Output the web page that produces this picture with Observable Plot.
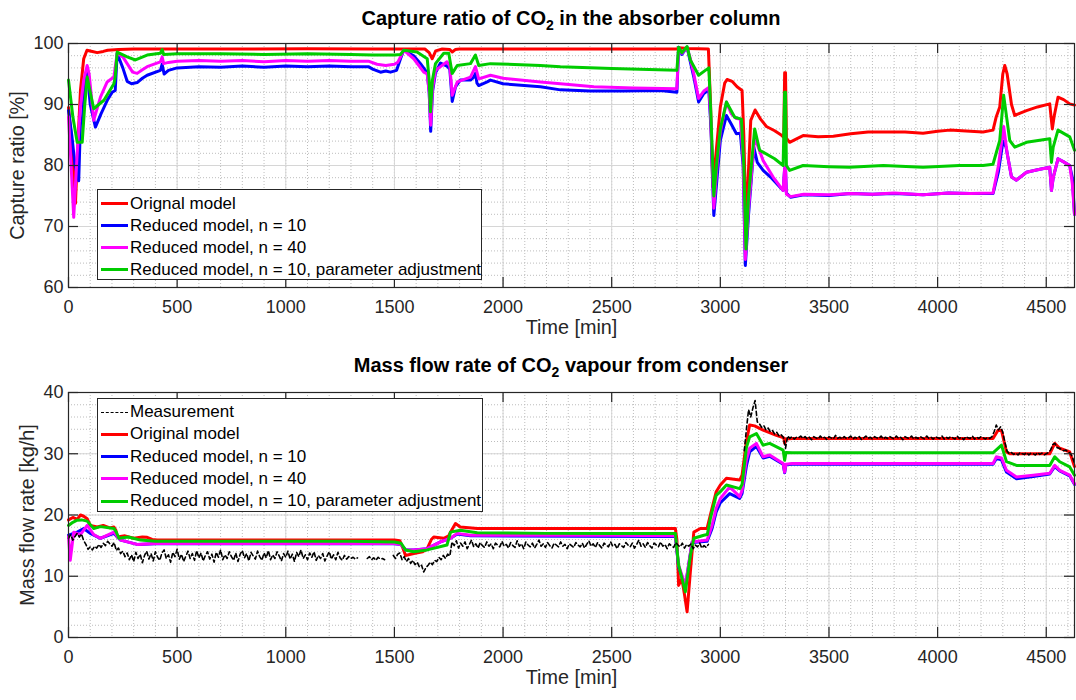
<!DOCTYPE html>
<html>
<head>
<meta charset="utf-8">
<script src="https://cdn.jsdelivr.net/npm/d3@7"></script>
<script src="https://cdn.jsdelivr.net/npm/@observablehq/plot@0.6"></script>
<style>
  html, body { margin: 0; padding: 0; background: #fff; }
  body { font-family: "Liberation Sans", Arial, Helvetica, sans-serif; color: #262626; }
  #root { position: relative; width: 1076px; height: 700px; overflow: hidden; }
  .ttl { position: absolute; left: 68px; width: 1006px; text-align: center; font-weight: bold;
         font-size: 20px; line-height: 20px; color: #000; white-space: nowrap; }
  .ttl sub { font-size: 14px; vertical-align: -5px; line-height: 0; }
  .panel { position: absolute; left: 0; }
  .legend { position: absolute; background: #fff; border: 1px solid #262626; box-sizing: border-box; }
  .lrow { position: absolute; left: 3px; height: 22px; display: flex; align-items: center;
          font-size: 17px; white-space: nowrap; color: #000; }
  .lsw { width: 27px; height: 0; margin-right: 2px; }
</style>
</head>
<body>
<div id="root"></div>
<script>
// ---------------- DATA ----------------
const timeTicks = [0, 500, 1000, 1500, 2000, 2500, 3000, 3500, 4000, 4500];
const captureTicks = [60, 70, 80, 90, 100];
const flowTicks = [0, 10, 20, 30, 40];

const seriesNames = ["Orignal model", "Reduced model, n = 10", "Reduced model, n = 40", "Reduced model, n = 10, parameter adjustment"];
const flowNames = ["Measurement", "Original model", "Reduced model, n = 10", "Reduced model, n = 40", "Reduced model, n = 10, parameter adjustment"];
const seriesColors = ["#ff0000", "#0000ff", "#ff00ff", "#00cc00"];

// Capture ratio [%] : [time min, value]
const captureOriginal = [[0,89.5],[15,84],[32,73.8],[45,85],[55,92.3],[70,97.5],[85,98.9],[110,98.7],[132,98.5],[160,98.7],[180,98.9],[230,99.0],[300,99.1],[500,99.1],[800,99.1],[1100,99.15],[1400,99.1],[1640,99.1],[1660,98.5],[1674,97.5],[1690,98.8],[1720,99.1],[1755,99.0],[1766,98.6],[1780,99.0],[1800,99.1],[2200,99.1],[2600,99.1],[2800,99.1],[2808,99.3],[2850,99.2],[2945,99.1],[2955,90],[2965,76.5],[2975,80],[3000,89.6],[3020,93.5],[3031,94.1],[3054,93.8],[3077,92.9],[3100,92.3],[3108,85],[3118,70],[3128,78],[3140,87.4],[3160,89.1],[3185,87.6],[3212,86.4],[3250,85.7],[3280,85.0],[3292,84.6],[3296,95.2],[3300,95.2],[3304,84.5],[3319,83.8],[3353,84.4],[3381,84.9],[3450,84.7],[3520,84.8],[3600,85.2],[3680,85.5],[3749,85.5],[3850,85.5],[3933,85.3],[4000,85.6],[4056,85.8],[4150,85.6],[4209,85.5],[4255,85.8],[4270,88],[4286,89.6],[4300,95],[4309,96.4],[4320,95],[4340,90],[4355,88.2],[4380,88.6],[4409,89.0],[4460,89.6],[4516,90.1],[4522,88],[4528,86.0],[4536,88],[4554,91.2],[4580,90.8],[4608,90.1],[4630,89.9]];
const captureReduced10 = [[0,89],[15,85],[30,80],[47,77.5],[55,86.9],[63,87],[72,92],[86,95.5],[100,90],[124,86.3],[150,88.5],[180,90.8],[201,92.0],[215,92.3],[224,98.4],[250,96],[270,93.8],[290,93.4],[316,93.6],[340,94.3],[362,94.8],[423,95.6],[431,96.6],[440,95],[460,95.6],[500,96.0],[600,96.2],[700,96.1],[800,96.3],[900,96.1],[1000,96.3],[1100,96.2],[1200,96.3],[1300,96.2],[1380,96.2],[1400,95.8],[1436,95.3],[1460,95.5],[1482,95.3],[1510,95.6],[1528,97.5],[1543,98.9],[1589,98.0],[1620,96.7],[1651,95.2],[1660,92],[1667,85.6],[1675,92],[1689,95.2],[1712,96.8],[1742,96.3],[1755,95.8],[1766,90.5],[1781,92.9],[1803,94.0],[1850,94.0],[1865,94.5],[1873,95.1],[1880,93.5],[1888,93.1],[1927,93.7],[1942,94.0],[2000,93.4],[2172,92.9],[2264,92.4],[2400,92.2],[2550,92.2],[2724,92.3],[2800,92.0],[2808,99.4],[2823,98.2],[2847,99.4],[2862,97],[2878,94.5],[2900,90.4],[2924,91.8],[2947,92.4],[2957,86],[2970,71.8],[2985,78],[3000,84.1],[3028,88.2],[3050,86.8],[3074,85.2],[3092,85.3],[3105,80],[3115,63.6],[3130,72],[3154,83.0],[3170,80.5],[3197,79.2],[3231,78.1],[3260,77],[3289,75.9],[3296,79.5],[3300,79.5],[3304,75.5],[3323,74.8],[3384,75.2],[3500,75.1],[3600,75.4],[3700,75.3],[3800,75.4],[3933,75.2],[4050,75.5],[4150,75.4],[4255,75.4],[4280,79],[4301,84],[4315,83],[4340,78.1],[4363,77.6],[4409,78.9],[4460,79.3],[4516,79.7],[4524,75.9],[4532,78],[4554,81.1],[4580,80.6],[4608,80],[4620,78],[4630,72]];
const captureReduced40 = [[0,88],[12,80],[24,71.5],[40,82],[55,89.6],[70,94],[86,96.4],[95,95],[116,87.4],[147,91.2],[178,93.7],[209,94.5],[224,98.4],[250,97.8],[270,96.7],[295,95.3],[316,95.1],[340,95.7],[362,96.2],[423,97.0],[431,97.8],[438,96.7],[460,96.9],[500,97.1],[600,97.2],[700,97.1],[800,97.2],[900,97.0],[1000,97.2],[1100,97.1],[1200,97.2],[1300,97.1],[1380,97.1],[1420,96.6],[1460,96.4],[1500,96.6],[1515,96.9],[1528,97.8],[1543,98.9],[1589,97.5],[1635,95.3],[1651,95.0],[1660,92],[1667,86.6],[1675,92.5],[1689,95.6],[1742,97.0],[1755,96.3],[1766,91.5],[1789,93.7],[1850,94.5],[1873,96.2],[1888,94.2],[1942,94.8],[2000,94.3],[2172,93.7],[2264,93.4],[2418,92.9],[2600,92.7],[2800,92.6],[2808,99.3],[2823,98.4],[2847,99.3],[2862,97.5],[2878,95],[2900,91],[2924,92.2],[2947,92.8],[2957,87],[2970,73],[2985,80],[3000,85.5],[3028,90.4],[3050,88.5],[3074,87.7],[3092,87.6],[3105,81],[3115,64.6],[3130,73],[3158,84.65],[3197,80.8],[3243,78.1],[3289,75.9],[3296,79.7],[3300,79.7],[3304,75.3],[3323,74.9],[3384,75.3],[3500,75.2],[3600,75.4],[3700,75.3],[3800,75.5],[3933,75.2],[4050,75.5],[4150,75.4],[4255,75.5],[4280,80],[4304,86.4],[4320,82],[4340,78.1],[4363,77.6],[4409,78.9],[4460,79.3],[4516,79.7],[4524,75.9],[4532,78],[4554,81.1],[4580,80.6],[4608,80],[4620,77],[4630,72]];
const captureReduced10Adj = [[0,94.0],[20,88],[40,83.8],[63,83.8],[75,90],[86,94.5],[100,92],[116,89.3],[163,90.7],[209,93.4],[215,94.5],[224,98.6],[270,97.8],[308,97.3],[362,98.1],[423,98.4],[431,99.0],[438,98.2],[500,98.3],[700,98.3],[900,98.2],[1100,98.3],[1300,98.2],[1400,98.1],[1500,98.1],[1528,98.2],[1543,98.9],[1604,98.6],[1651,97.5],[1660,94],[1666,88.8],[1675,94],[1689,96.7],[1727,98.4],[1750,98.4],[1766,95.1],[1789,96.4],[1850,96.7],[1873,98.1],[1888,96.4],[1942,96.7],[2172,96.4],[2264,96.2],[2500,95.9],[2800,95.6],[2808,99.4],[2823,98.5],[2847,99.5],[2862,97.3],[2900,94.8],[2931,95.6],[2947,96.0],[2957,88],[2970,75],[2985,81],[3000,86],[3028,90.4],[3066,87.9],[3097,87.6],[3108,80],[3118,66.3],[3130,75],[3158,86.0],[3181,82.5],[3250,81.1],[3289,80.0],[3296,92.0],[3300,92.0],[3304,80],[3319,79.2],[3381,80.0],[3500,79.8],[3594,79.7],[3750,80.0],[3933,79.7],[4100,80.0],[4209,80.0],[4255,80.2],[4286,84.1],[4304,91.5],[4332,84.1],[4355,83.0],[4409,83.8],[4516,84.4],[4524,80.5],[4532,83],[4554,85.8],[4608,84.7],[4630,82.5]];

// Mass flow rate [kg/h] : [time min, value]
const flowOriginal = [[0,19.2],[20,19.6],[40,19.3],[55,20.0],[70,19.8],[86,19.4],[100,18.3],[132,18.05],[160,18.3],[190,17.9],[209,18.05],[218,17.5],[224,16.4],[260,16.6],[300,16.2],[340,16.4],[362,16.35],[385,16.0],[408,15.9],[600,15.9],[900,15.9],[1200,15.9],[1500,15.9],[1525,15.8],[1540,14.5],[1551,13.4],[1589,13.7],[1630,14.0],[1651,14.5],[1670,16.0],[1681,16.4],[1727,16.2],[1750,16.6],[1758,17.2],[1781,18.6],[1803,18.05],[1881,17.8],[2100,17.8],[2400,17.8],[2793,17.8],[2800,16],[2808,8.5],[2823,9.6],[2835,7],[2847,4.2],[2862,10.7],[2878,17.2],[2908,17.8],[2939,17.8],[2954,20.0],[2981,23.8],[3000,24.9],[3028,26.0],[3089,25.7],[3100,26.5],[3120,32],[3135,34.7],[3158,34.55],[3197,33.85],[3258,33.0],[3292,32.6],[3296,31.7],[3302,32.4],[3330,32.5],[3600,32.5],[3900,32.5],[4255,32.5],[4278,33.85],[4294,33.8],[4317,30.3],[4332,30.0],[4516,30.0],[4539,31.7],[4562,30.9],[4608,30.3],[4630,27.9]];
const flowReduced10 = [[0,16.7],[40,17.2],[70,17.8],[100,17.0],[147,16.2],[209,17.0],[240,15.9],[316,15.2],[400,15.3],[1500,15.3],[1530,15.2],[1551,14.3],[1589,14.3],[1651,14.5],[1712,15.6],[1758,16.2],[1789,16.9],[1850,16.6],[2793,16.5],[2808,11.5],[2839,8.3],[2870,15.5],[2939,15.7],[2962,17.8],[2981,20.5],[3000,22.0],[3043,23.5],[3089,22.7],[3100,23.5],[3120,28],[3135,30.3],[3166,31.2],[3197,29.3],[3227,29.6],[3289,28.3],[3296,26.9],[3302,28.2],[3330,28.3],[4255,28.3],[4270,29.2],[4294,29.0],[4317,27.0],[4363,25.9],[4440,26.3],[4516,26.7],[4539,27.9],[4562,27.2],[4608,26.4],[4630,25.0]];
const flowReduced40 = [[0,16.5],[8,12.6],[24,17.2],[55,16.8],[86,18.3],[116,16.8],[147,16.2],[209,17.2],[225,16.5],[240,15.9],[316,15.2],[400,15.35],[700,15.35],[1000,15.35],[1300,15.35],[1500,15.35],[1530,15.2],[1551,14.3],[1589,14.3],[1651,14.5],[1712,15.6],[1758,16.2],[1789,17.0],[1850,16.7],[2200,16.7],[2500,16.7],[2793,16.6],[2808,11.8],[2839,8.5],[2870,15.6],[2939,15.9],[2962,18.3],[2981,21.1],[3000,22.7],[3043,24.6],[3089,23.0],[3100,24],[3120,29],[3135,30.9],[3166,31.7],[3197,29.5],[3227,29.8],[3289,28.4],[3296,27.0],[3302,28.3],[3330,28.4],[3700,28.4],[4100,28.4],[4255,28.4],[4270,29.5],[4294,29.3],[4317,27.3],[4363,26.2],[4440,26.5],[4516,26.8],[4539,28.1],[4562,27.3],[4608,26.5],[4630,25.1]];
const flowReduced10Adj = [[0,18.3],[20,18.8],[40,19.15],[60,19.2],[86,19.0],[116,17.8],[147,18.1],[209,17.8],[220,17.2],[232,16.2],[275,16.4],[331,15.9],[400,15.7],[700,15.7],[1000,15.7],[1300,15.7],[1500,15.6],[1530,15.4],[1551,14.3],[1589,14.0],[1651,14.3],[1742,15.1],[1758,17.2],[1803,17.5],[1881,17.1],[2200,17.0],[2500,17.0],[2793,17.0],[2808,11.8],[2839,7.45],[2862,13.4],[2878,16.2],[2924,16.7],[2940,16.8],[2954,19.4],[2981,23.2],[3000,23.8],[3028,24.9],[3089,24.3],[3100,25],[3120,31],[3135,32.75],[3166,33.3],[3197,31.4],[3227,31.7],[3289,30.6],[3296,28.95],[3302,30.2],[3330,30.15],[3700,30.15],[4100,30.15],[4255,30.15],[4294,31.4],[4317,28.7],[4363,28.1],[4516,28.1],[4539,29.5],[4562,28.7],[4608,27.85],[4630,26.5]];

// Measurement: sampled every 10 min, in four recorded segments
const measStep = 10;
const measSeg1Start = 0;
const measSeg1 = [16.2,16.8,15.9,16.5,17.0,16.4,16.9,15.8,15.2,14.4,14.8,14.3,14.9,14.6,15.2,14.7,15.4,15.0,15.7,15.3,14.9,15.5,14.2,14.6,13.7,14.1,13.2,13.8,12.7,13.5,12.4,13.9,12.9,13.6,12.2,13.4,14.1,12.8,13.7,12.5,14.0,13.1,12.6,13.8,14.3,12.9,13.5,12.3,13.9,13.2,14.4,12.8,13.6,12.4,13.3,14.1,12.9,13.7,12.6,14.2,13.0,13.8,12.5,13.4,14.0,12.8,13.6,12.3,13.9,13.1,14.3,12.7,13.5,12.9,14.0,13.2,12.6,13.8,12.4,13.6,14.2,13.0,13.7,12.5,13.9,13.3,12.8,14.1,13.2,12.6,13.8,13.0,14.2,12.7,13.5,12.9,14.0,13.3,12.5,13.7,13.1,14.1,12.8,13.6,12.4,13.9,13.2,14.3,12.9,13.5,12.7,13.8,13.1,14.0,12.6,13.4,12.9,13.7,12.5,13.3,14.0,12.8,13.5,12.7,13.9,13.0,12.6,13.4,12.8,13.2,12.9,13.1,12.8,13.0];
const measSeg2Start = 1375;
const measSeg2 = [12.9,13.2,12.7,13.0,12.6,13.1,12.8,12.9,12.7];
const measSeg3Start = 1495;
const measSeg3 = [13.4,12.9,13.6,13.8,12.7,13.2,12.4,12.9,12.1,12.6,11.9,12.3,11.5,11.8,10.7,11.4,11.8,12.3,11.9,12.6,12.4,13.1,12.7,13.4,12.9,13.6,13.3,15.6,15.0,15.8,14.6,15.4,14.9,15.6,14.5,15.2,15.9,14.8,15.3,14.6,15.5,15.0,14.7,15.6,14.9,15.3,14.5,15.4,15.1,14.8,15.7,14.9,15.2,14.6,15.5,15.0,14.7,15.8,14.9,15.3,14.5,15.6,15.1,14.8,15.4,14.6,15.2,15.9,14.9,15.3,14.7,15.5,15.0,14.6,15.4,15.1,14.8,15.6,14.9,15.2,14.5,15.3,15.0,14.7,15.5,15.1,14.8,15.4,14.6,15.2,15.8,14.9,15.3,14.7,15.5,15.0,14.6,15.4,15.1,14.8,15.6,14.9,15.2,14.5,15.3,15.0,14.7,15.5,15.1,14.8,15.4,14.6,15.2,15.9,14.9,15.3,14.7,15.5,15.0,14.6,15.4,15.1,14.8,15.6,14.9,15.2,14.5,15.3,15.0,14.7,15.5,15.1,14.8,15.4,14.6,15.2,14.9,15.3,14.5,15.1,14.8,15.4,14.6,15.0,14.7,15.2];
const measSeg4Start = 3110;
const measSeg4 = [30.5,34.0,37.2,36.0,37.5,38.7,35.2,34.9,34.3,34.6,33.9,34.2,33.6,33.8,33.2,33.5,32.9,33.1,32.7,30.9,32.9,32.5,32.8,32.4,32.7,32.6,32.9,32.5,32.8,32.4,32.7,32.3,32.8,32.6,32.4,32.9,32.5,32.7,32.3,32.8,32.6,32.4,33.0,32.5,32.7,32.4,32.8,32.5,32.6,32.9,32.4,32.7,32.5,32.8,32.3,32.6,32.9,32.5,32.7,32.4,32.8,32.6,32.5,32.9,32.4,32.7,32.5,32.8,32.6,32.4,32.9,32.5,32.7,32.3,32.8,32.6,32.5,32.9,32.4,32.7,32.5,32.8,32.6,32.4,32.9,32.5,32.7,32.4,32.8,32.6,32.5,32.9,32.4,32.7,32.5,32.8,32.6,32.4,32.9,32.5,32.7,32.3,32.8,32.6,32.5,32.9,32.4,32.7,32.5,32.8,32.6,32.4,32.7,32.5,32.8,33.6,34.7,33.9,34.4,33.5,31.8,30.4,30.0,30.2,29.9,30.1,29.8,30.2,30.0,29.9,30.2,29.8,30.1,30.0,29.8,30.2,29.9,30.1,29.8,30.0,30.2,30.6,31.5,31.7,31.0,30.9,30.7,30.5,30.6,30.3,30.1,29.5,28.5];

// ---------------- BUILD ----------------
const FONT = '"Liberation Sans", Arial, Helvetica, sans-serif';
const INK = "#262626";
const W = 1076, ML = 68, MR = 2;
const xDomain = [0, 4630];
const minorX = d3.range(0, 4631, 100);

const toRows = (pairs) => pairs.map(([t, v]) => ({t, v}));
const measRows = [];
[[measSeg1Start, measSeg1], [measSeg2Start, measSeg2], [measSeg3Start, measSeg3], [measSeg4Start, measSeg4]]
  .forEach(([start, vals], s) => vals.forEach((v, i) => measRows.push({t: start + i * measStep, v, seg: s})));

function panel({height, marginTop, marginBottom, yDomain, yTicks, ylabel, ylabelDx, series, meas}) {
  const frameH = height - marginTop - marginBottom;
  const frameW = W - ML - MR;
  const minorY = d3.range(yDomain[0], yDomain[1] + 0.001, 2);
  const marks = [
    Plot.ruleX(minorX, {stroke: "#bdbdbd", strokeWidth: 1, strokeDasharray: "1,2"}),
    Plot.ruleY(minorY, {stroke: "#bdbdbd", strokeWidth: 1, strokeDasharray: "1,2"}),
    Plot.ruleX(timeTicks, {stroke: "#d6d6d6", strokeWidth: 1}),
    Plot.ruleY(yTicks, {stroke: "#d6d6d6", strokeWidth: 1}),
    ...series.map((s, i) => Plot.line(toRows(s), {x: "t", y: "v", stroke: seriesColors[i], strokeWidth: 3, strokeLinejoin: "round"}))
  ];
  if (meas) marks.push(Plot.line(meas, {x: "t", y: "v", z: "seg", stroke: "#000", strokeWidth: 1.6, strokeDasharray: "4,3"}));
  marks.push(
    Plot.frame({stroke: INK, strokeWidth: 1.2}),
    Plot.ruleX(timeTicks, {stroke: INK, strokeWidth: 1.2, insetTop: frameH - 10}),
    Plot.ruleX(timeTicks, {stroke: INK, strokeWidth: 1.2, insetBottom: frameH - 10}),
    Plot.ruleY(yTicks, {stroke: INK, strokeWidth: 1.2, insetRight: frameW - 10}),
    Plot.ruleY(yTicks, {stroke: INK, strokeWidth: 1.2, insetLeft: frameW - 10}),
    Plot.axisX({ticks: timeTicks, tickSize: 0, tickPadding: 13, fontSize: 18, color: INK, label: null, tickFormat: d => String(d)}),
    Plot.axisY({ticks: yTicks, tickSize: 0, tickPadding: 5, fontSize: 18, color: INK, label: null, tickFormat: d => String(d)}),
    Plot.text(["Time [min]"], {frameAnchor: "bottom", textAnchor: "middle", dy: 46, fontSize: 19.8, fill: INK}),
    Plot.text([ylabel], {frameAnchor: "left", textAnchor: "middle", dx: ylabelDx, rotate: -90, fontSize: 19.8, fill: INK})
  );
  return Plot.plot({
    width: W, height, marginTop, marginBottom, marginLeft: ML, marginRight: MR,
    style: {fontFamily: FONT, background: "transparent", color: INK, overflow: "visible"},
    x: {domain: xDomain},
    y: {domain: yDomain},
    marks
  });
}

const root = document.getElementById("root");

function addTitle(html, top) {
  const d = document.createElement("div");
  d.className = "ttl";
  d.style.top = top + "px";
  d.innerHTML = html;
  root.appendChild(d);
}
function addPanel(svg, top) {
  const d = document.createElement("div");
  d.className = "panel";
  d.style.top = top + "px";
  d.appendChild(svg);
  root.appendChild(d);
}
function addLegend(left, top, width, height, entries, firstCenter, step) {
  const box = document.createElement("div");
  box.className = "legend";
  Object.assign(box.style, {left: left + "px", top: top + "px", width: width + "px", height: height + "px"});
  entries.forEach((e, i) => {
    const row = document.createElement("div");
    row.className = "lrow";
    row.style.top = (firstCenter + i * step - 11) + "px";
    const sw = document.createElement("span");
    sw.className = "lsw";
    sw.style.borderTop = e.dashed ? "1.5px dashed #000" : `3px solid ${e.color}`;
    const tx = document.createElement("span");
    tx.textContent = e.name;
    row.appendChild(sw); row.appendChild(tx);
    box.appendChild(row);
  });
  root.appendChild(box);
}

addTitle("Capture ratio of CO<sub>2</sub> in the absorber column", 8);
addPanel(panel({
  height: 310, marginTop: 13, marginBottom: 53,
  yDomain: [60, 100], yTicks: captureTicks, ylabel: "Capture ratio [%]", ylabelDx: -51,
  series: [captureOriginal, captureReduced10, captureReduced40, captureReduced10Adj]
}), 30);
addLegend(97, 189, 385, 91, seriesNames.map((n, i) => ({name: n, color: seriesColors[i]})), 13.5, 22.1);

addTitle("Mass flow rate of CO<sub>2</sub> vapour from condenser", 355);
addPanel(panel({
  height: 320, marginTop: 12, marginBottom: 63,
  yDomain: [0, 40], yTicks: flowTicks, ylabel: "Mass flow rate [kg/h]", ylabelDx: -41,
  series: [flowOriginal, flowReduced10, flowReduced40, flowReduced10Adj],
  meas: measRows
}), 380);
addLegend(97, 398, 386, 114, [{name: flowNames[0], dashed: true}].concat(flowNames.slice(1).map((n, i) => ({name: n, color: seriesColors[i]}))), 13, 22.25);
</script>
</body>
</html>
